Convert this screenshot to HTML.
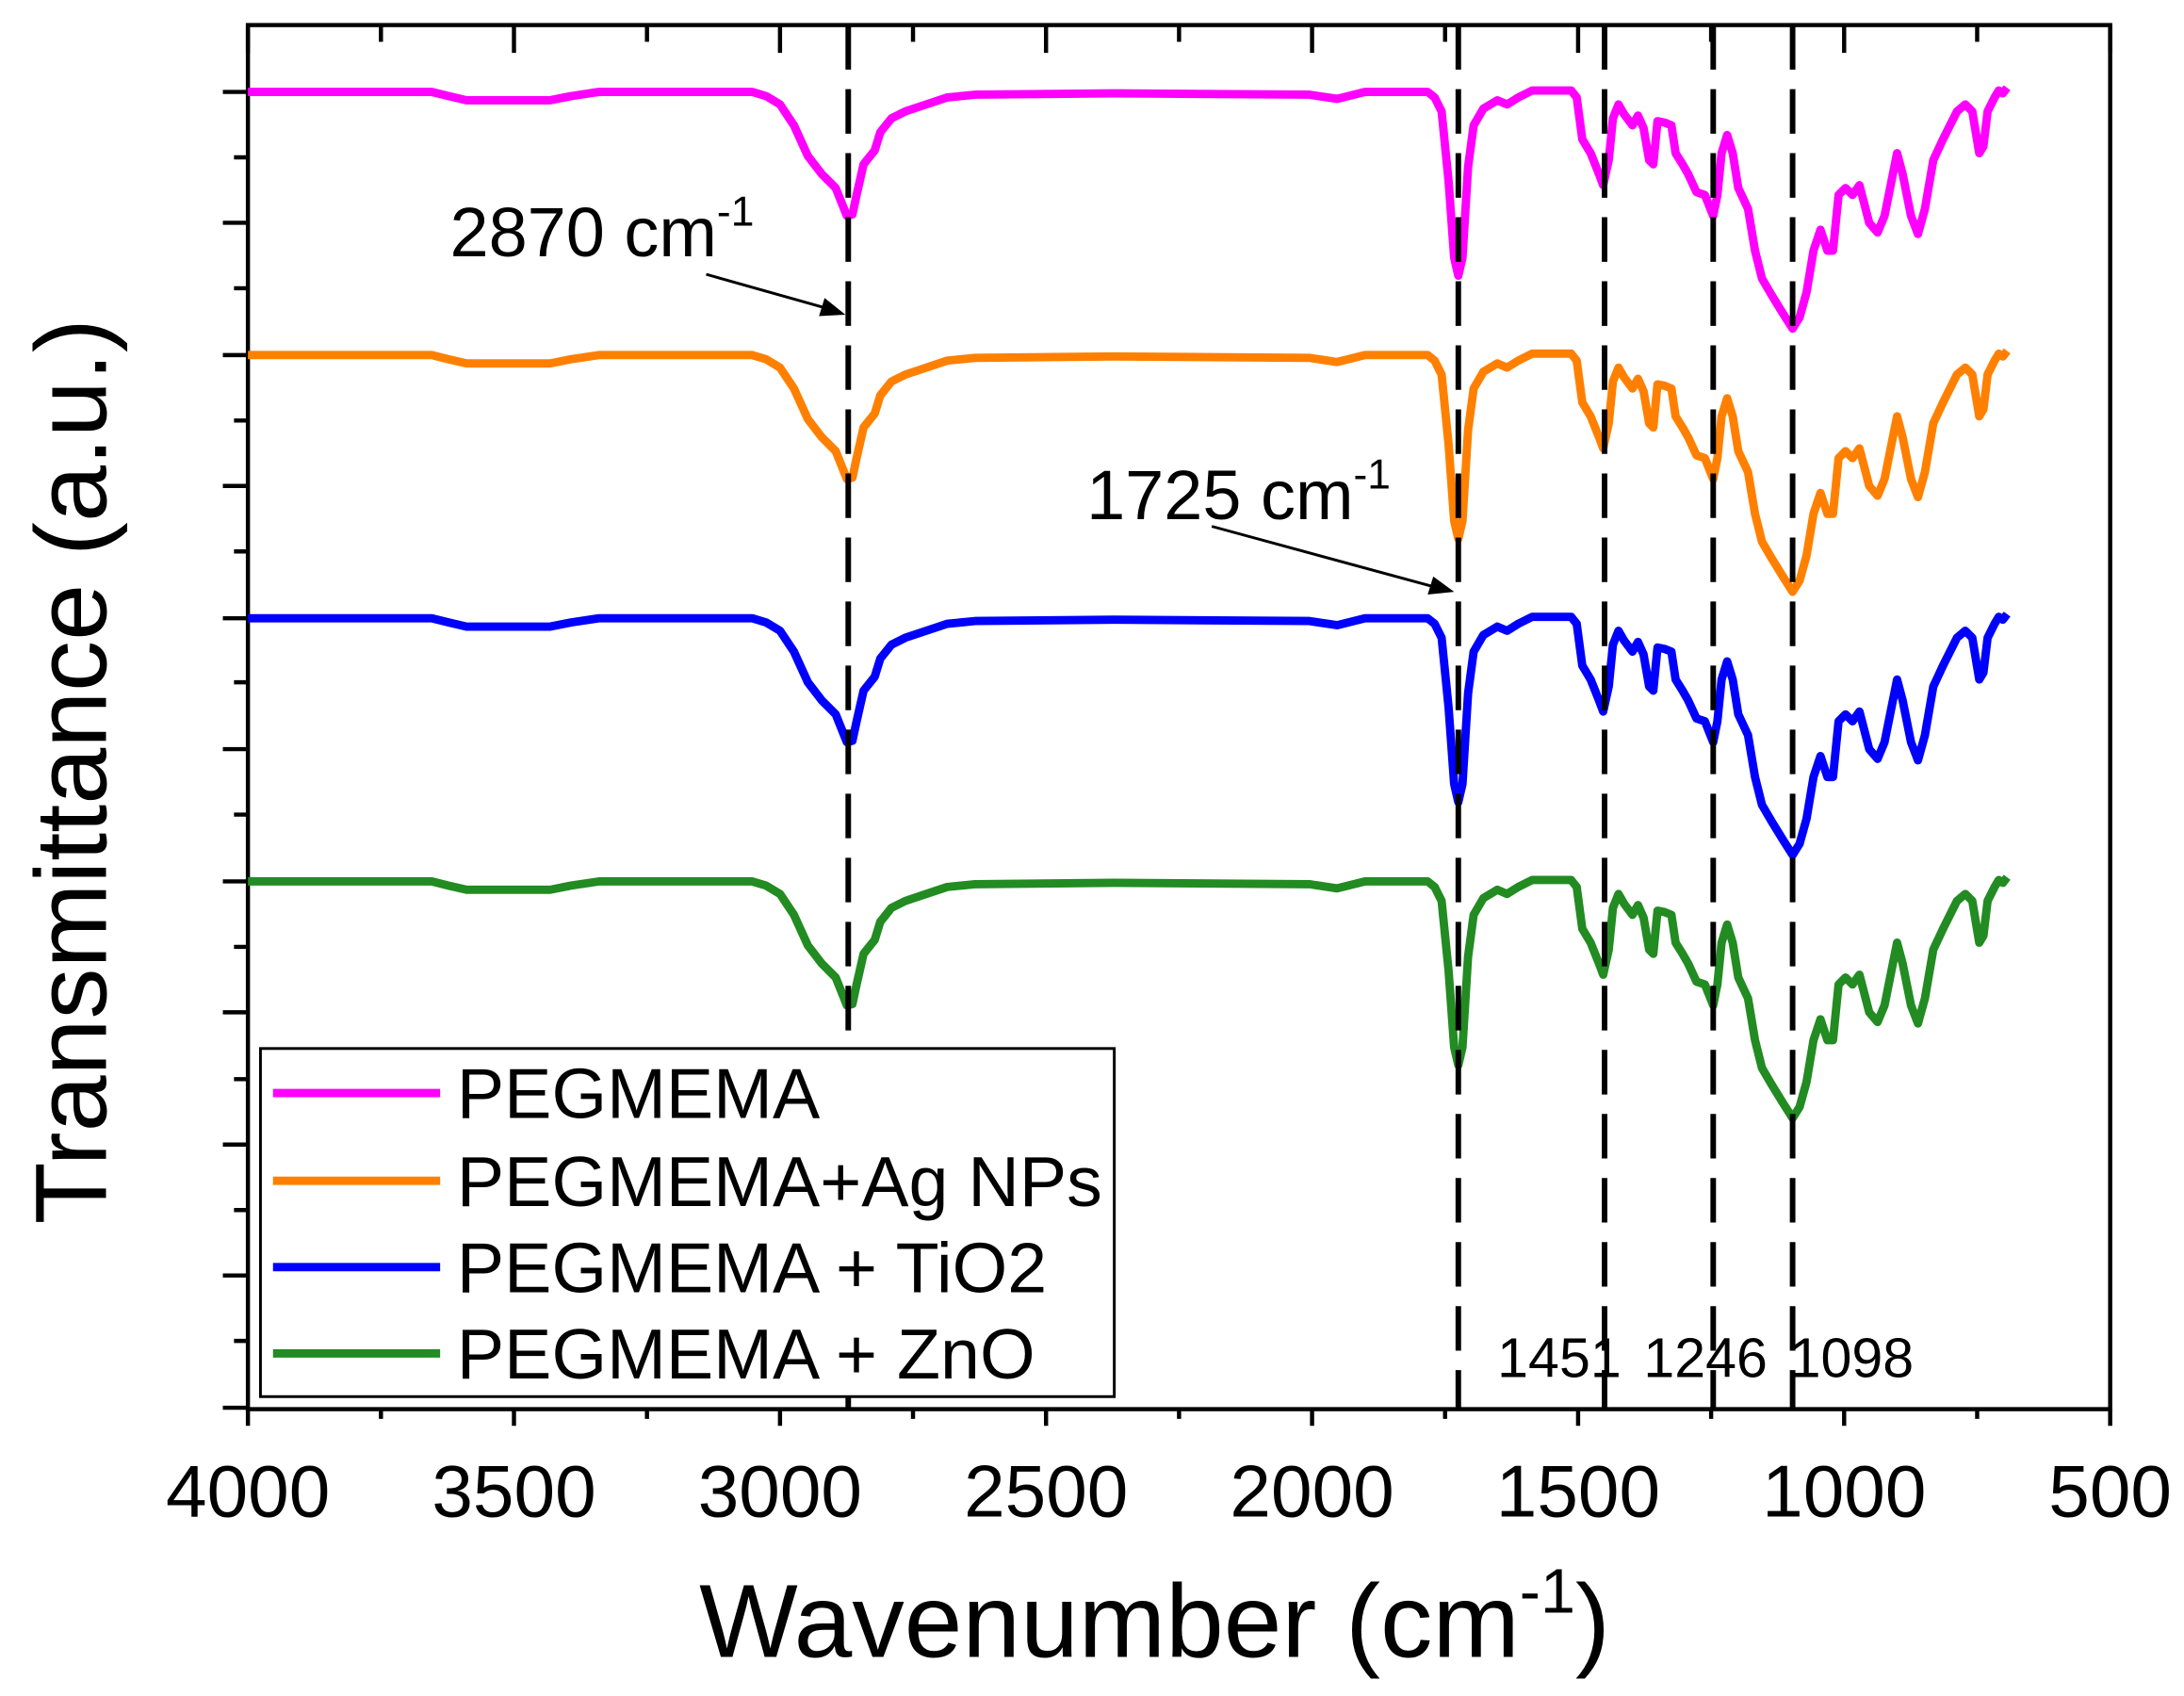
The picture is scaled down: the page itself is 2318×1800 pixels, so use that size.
<!DOCTYPE html>
<html><head><meta charset="utf-8"><style>
html,body{margin:0;padding:0;background:#fff;}
svg{display:block;}
text{font-family:"Liberation Sans",Arial,sans-serif;fill:#000;}
</style></head><body>
<svg width="2318" height="1800" viewBox="0 0 1568 1218" preserveAspectRatio="none" xmlns="http://www.w3.org/2000/svg">
<defs>
<path id="sp" fill="none" stroke-width="6" stroke-linejoin="round" d="M178,0 L310,0 L322,3 L335,6 L395,6 L410,3 L430,0 L540,0 L550,3 L560,9 L570,24 L580,46 L590,59 L600,69 L608,89 L612,88 L615,74 L620,52 L628,42 L632,29 L640,19 L650,14 L665,9 L680,4 L700,2 L800,1 L940,2 L960,5 L980,0 L1025,0 L1030,4 L1035,14 L1040,64 L1044,119 L1047,132 L1050,119 L1054,54 L1058,24 L1065,12 L1075,6 L1082,9 L1090,4 L1100,-1 L1128,-1 L1132,4 L1136,34 L1142,44 L1148,59 L1151,67 L1155,49 L1158,19 L1162,9 L1166,16 L1172,24 L1176,17 L1180,26 L1184,49 L1187,52 L1190,21 L1195,22 L1200,24 L1203,44 L1208,52 L1212,59 L1218,72 L1224,74 L1230,89 L1233,74 L1236,44 L1240,31 L1244,44 L1248,69 L1255,84 L1260,114 L1265,134 L1272,146 L1280,159 L1287,170 L1292,162 L1297,144 L1302,114 L1307,99 L1312,114 L1316,114 L1320,74 L1325,69 L1330,74 L1335,67 L1342,94 L1348,101 L1353,89 L1358,64 L1362,44 L1366,59 L1372,89 L1377,102 L1382,84 L1388,49 L1395,34 L1405,14 L1411,9 L1416,14 L1421,44 L1424,39 L1427,14 L1432,4 L1435,-1 L1438,1 L1441,-3"/>
</defs>
<rect x="178" y="18" width="1337" height="994" fill="none" stroke="#000" stroke-width="3"/>
<g stroke="#000" stroke-width="3">
<path d="M160,66H178M168,113H178M160,160H178M168,207H178M160,255H178M168,302H178M160,349H178M168,396H178M160,444H178M168,490H178M160,538H178M168,585H178M160,633H178M168,680H178M160,727H178M168,775H178M160,822H178M168,869H178M160,916H178M168,963H178M160,1011H178"/>
<path d="M178,18V38M273.5,18V30M369,18V38M464.5,18V30M560,18V38M655.5,18V30M751,18V38M846.5,18V30M942,18V38M1037.5,18V30M1133,18V38M1228.5,18V30M1324,18V38M1419.5,18V30M1515,18V38"/>
<path d="M178,1012V1024M273.5,1012V1019M369,1012V1024M464.5,1012V1019M560,1012V1024M655.5,1012V1019M751,1012V1024M846.5,1012V1019M942,1012V1024M1037.5,1012V1019M1133,1012V1024M1228.5,1012V1019M1324,1012V1024M1419.5,1012V1019M1515,1012V1024"/>
</g>
<g font-size="53" text-anchor="middle">
<text x="178" y="1089">4000</text><text x="369" y="1089">3500</text><text x="560" y="1089">3000</text><text x="751" y="1089">2500</text><text x="942" y="1089">2000</text><text x="1133" y="1089">1500</text><text x="1324" y="1089">1000</text><text x="1515" y="1089">500</text>
</g>
<use href="#sp" transform="translate(0,66)" stroke="#ff00ff"/>
<use href="#sp" transform="translate(0,255)" stroke="#ff8000"/>
<use href="#sp" transform="translate(0,444)" stroke="#0000ff"/>
<use href="#sp" transform="translate(0,633)" stroke="#228b22"/>
<g stroke="#000" stroke-width="4" stroke-dasharray="32,14" fill="none">
<path d="M609,18V1012M1047,18V1012M1152,18V1012M1230,18V1012M1287,18V1012"/>
</g>
<text x="323" y="184" font-size="50">2870 cm<tspan dy="-22" font-size="30">-1</tspan></text>
<line x1="507" y1="197" x2="592" y2="221" stroke="#000" stroke-width="2"/>
<polygon points="607,226 588,227 592,214" fill="#000"/>
<text x="780" y="373" font-size="50">1725 cm<tspan dy="-22" font-size="30">-1</tspan></text>
<line x1="870" y1="378" x2="1028" y2="421" stroke="#000" stroke-width="2"/>
<polygon points="1044,425 1025,427 1029,414" fill="#000"/>
<g font-size="40"><text x="1075" y="989">1451</text><text x="1180" y="989">1246</text><text x="1285" y="989">1098</text></g>
<rect x="187" y="753" width="613" height="250" fill="#fff" stroke="#000" stroke-width="2"/>
<g stroke-width="6">
<line x1="196" y1="785" x2="316" y2="785" stroke="#ff00ff"/>
<line x1="196" y1="848" x2="316" y2="848" stroke="#ff8000"/>
<line x1="196" y1="910" x2="316" y2="910" stroke="#0000ff"/>
<line x1="196" y1="972" x2="316" y2="972" stroke="#228b22"/>
</g>
<g font-size="51">
<text x="328" y="803">PEGMEMA</text>
<text x="328" y="866">PEGMEMA+Ag NPs</text>
<text x="328" y="928">PEGMEMA + TiO2</text>
<text x="328" y="990">PEGMEMA + ZnO</text>
</g>
<text x="829" y="1190" font-size="75" text-anchor="middle">Wavenumber (cm<tspan dy="-32" font-size="45">-1</tspan><tspan dy="32">)</tspan></text>
<text transform="translate(76,554) rotate(-90)" font-size="73" text-anchor="middle">Transmittance (a.u.)</text>
</svg>
</body></html>
